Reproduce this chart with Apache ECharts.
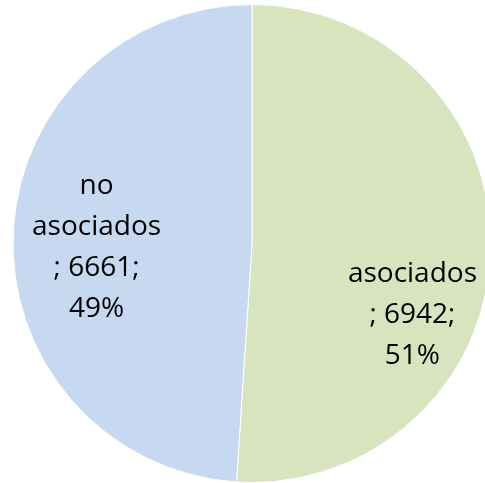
<!DOCTYPE html>
<html>
<head>
<meta charset="utf-8">
<script src="https://cdn.jsdelivr.net/npm/echarts@6/dist/echarts.min.js"></script>
<style>
html,body{margin:0;padding:0;background:#fff;}
#chart{width:485px;height:483px;}
</style>
</head>
<body>
<div id="chart"></div>
<script>
var categories = ['asociados', 'no asociados'];
var values = [6942, 6661];
var colors = ['#D7E4BD', '#C6D9F1'];
var labelShift = [[38, 68], [-33, 8]];

var chart = echarts.init(document.getElementById('chart'), null, {renderer: 'canvas'});
chart.setOption({
  backgroundColor: '#ffffff',
  animation: false,
  series: [{
    type: 'pie',
    center: [252, 243.5],
    radius: 239,
    startAngle: 90,
    clockwise: true,
    avoidLabelOverlap: false,
    itemStyle: {borderColor: '#ffffff', borderWidth: 1},
    emphasis: {disabled: true},
    label: {
      show: true,
      position: 'inside',
      fontFamily: 'Open Sans',
      fontSize: 28,
      lineHeight: 41,
      color: '#000000',
      align: 'center',
      formatter: function (p) {
        return p.name.split(' ').join('\n') + '\n; ' + p.value + ';\n' + Math.round(p.percent) + '%';
      }
    },
    labelLine: {show: false},
    labelLayout: function (p) {
      var s = labelShift[p.dataIndex];
      return {dx: s[0], dy: s[1]};
    },
    data: categories.map(function (c, i) {
      return {name: c, value: values[i], itemStyle: {color: colors[i]}};
    })
  }]
});
</script>
</body>
</html>
